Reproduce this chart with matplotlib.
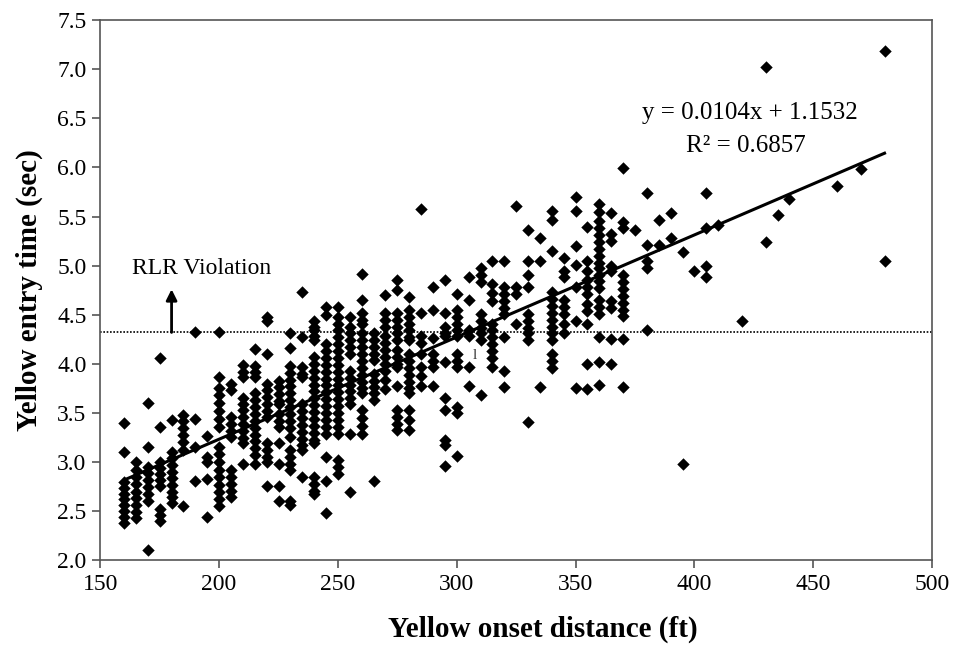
import numpy as np
import matplotlib
matplotlib.use('Agg')
import matplotlib.pyplot as plt

# yellow onset distance columns (ft) and the entry times observed at each (sec)
onset_ft = [160, 165, 170, 175, 180, 185, 190, 195, 200, 205,
            210, 215, 220, 225, 230, 235, 240, 245, 250, 255,
            260, 265, 270, 275, 280, 285, 290, 295, 300, 305,
            310, 315, 320, 325, 330, 335, 340, 345, 350, 355,
            360, 365, 370, 375, 380, 385, 390, 395, 400, 405,
            410, 420, 430, 435, 440, 460, 470, 480]

entry_sec = [
    [3.40, 3.10, 2.80, 2.74, 2.68, 2.62, 2.56, 2.50, 2.44, 2.38],
    [3.00, 2.92, 2.85, 2.78, 2.70, 2.63, 2.56, 2.49, 2.43],
    [3.60, 3.15, 2.95, 2.89, 2.82, 2.75, 2.68, 2.60, 2.10],
    [4.06, 3.36, 3.00, 2.94, 2.88, 2.82, 2.76, 2.52, 2.46, 2.40],
    [3.43, 3.10, 3.04, 2.97, 2.90, 2.84, 2.77, 2.70, 2.64, 2.58],
    [3.48, 3.42, 3.35, 3.28, 3.20, 3.12, 2.55],
    [4.32, 3.44, 3.15, 2.81],
    [3.27, 3.05, 3.00, 2.83, 2.44],
    [4.32, 3.87, 3.75, 3.68, 3.60, 3.52, 3.44, 3.36, 3.15, 3.08, 3.00, 2.92, 2.85, 2.77, 2.70, 2.62, 2.55],
    [3.80, 3.73, 3.46, 3.39, 3.32, 3.26, 2.92, 2.85, 2.78, 2.71, 2.64],
    [3.99, 3.92, 3.87, 3.65, 3.59, 3.53, 3.46, 3.39, 3.32, 3.25, 3.19, 2.98],
    [4.15, 3.98, 3.92, 3.87, 3.70, 3.63, 3.56, 3.49, 3.42, 3.35, 3.28, 3.21, 3.14, 3.07, 2.98],
    [4.48, 4.44, 4.10, 3.80, 3.73, 3.66, 3.59, 3.52, 3.46, 3.19, 3.12, 3.05, 3.00, 2.76],
    [3.83, 3.76, 3.69, 3.62, 3.59, 3.49, 3.42, 3.36, 3.19, 2.98, 2.76, 2.60],
    [4.31, 4.16, 3.98, 3.91, 3.84, 3.77, 3.70, 3.63, 3.56, 3.49, 3.42, 3.35, 3.26, 3.12, 3.05, 2.98, 2.92, 2.60, 2.56],
    [4.73, 4.27, 3.97, 3.90, 3.87, 3.59, 3.52, 3.45, 3.38, 3.31, 3.24, 3.17, 3.12, 2.85],
    [4.44, 4.38, 4.34, 4.28, 4.24, 4.07, 4.00, 3.93, 3.86, 3.79, 3.72, 3.65, 3.58, 3.51, 3.44, 3.37, 3.30, 3.23, 3.19, 2.85, 2.78, 2.71, 2.68],
    [4.58, 4.50, 4.20, 4.13, 4.06, 3.99, 3.92, 3.85, 3.78, 3.71, 3.64, 3.57, 3.50, 3.43, 3.36, 3.29, 3.05, 2.81, 2.48],
    [4.58, 4.48, 4.41, 4.34, 4.27, 4.20, 4.13, 4.06, 3.99, 3.92, 3.85, 3.78, 3.71, 3.64, 3.57, 3.50, 3.43, 3.36, 3.29, 3.02, 2.95, 2.88],
    [4.48, 4.38, 4.31, 4.24, 4.17, 4.10, 3.93, 3.86, 3.79, 3.72, 3.65, 3.59, 3.29, 2.70],
    [4.92, 4.65, 4.52, 4.45, 4.41, 4.31, 4.24, 4.17, 4.10, 4.03, 3.96, 3.89, 3.82, 3.75, 3.70, 3.53, 3.45, 3.37, 3.29],
    [4.31, 4.24, 4.17, 4.10, 4.04, 3.90, 3.83, 3.76, 3.70, 3.63, 2.81],
    [4.70, 4.52, 4.45, 4.38, 4.28, 4.21, 4.14, 4.07, 4.00, 3.93, 3.84, 3.74],
    [4.85, 4.75, 4.52, 4.45, 4.38, 4.31, 4.24, 4.14, 4.07, 4.00, 3.97, 3.77, 3.53, 3.46, 3.39, 3.33],
    [4.68, 4.55, 4.48, 4.41, 4.34, 4.27, 4.24, 4.10, 4.03, 3.96, 3.89, 3.82, 3.75, 3.70, 3.53, 3.43, 3.33],
    [5.58, 4.52, 4.28, 4.21, 4.10, 3.97, 3.88, 3.77],
    [4.78, 4.55, 4.26, 4.10, 4.03, 3.97, 3.77],
    [4.85, 4.52, 4.38, 4.31, 4.28, 4.02, 3.65, 3.53, 3.22, 3.17, 2.96],
    [4.71, 4.55, 4.48, 4.41, 4.34, 4.28, 4.10, 4.03, 3.97, 3.56, 3.50, 3.06],
    [4.88, 4.65, 4.34, 4.28, 3.97, 3.77],
    [4.98, 4.90, 4.83, 4.51, 4.44, 4.37, 4.31, 4.24, 3.68],
    [5.05, 4.81, 4.72, 4.64, 4.41, 4.34, 4.27, 4.20, 4.13, 4.06, 3.97],
    [5.05, 4.78, 4.71, 4.64, 4.57, 4.51, 4.27, 3.93, 3.76],
    [5.61, 4.78, 4.71, 4.41],
    [5.36, 5.05, 4.90, 4.78, 4.51, 4.44, 4.37, 4.31, 4.24, 3.41],
    [5.28, 5.05, 3.76],
    [5.56, 5.46, 5.15, 4.73, 4.66, 4.59, 4.52, 4.45, 4.38, 4.31, 4.24, 4.10, 4.03, 3.96],
    [5.08, 4.95, 4.88, 4.65, 4.58, 4.51, 4.41, 4.31],
    [5.70, 5.56, 5.20, 5.01, 4.78, 4.44, 3.75],
    [5.39, 5.05, 4.95, 4.85, 4.78, 4.71, 4.61, 4.54, 4.41, 4.00, 3.74],
    [5.63, 5.55, 5.45, 5.38, 5.31, 5.24, 5.17, 5.10, 5.03, 4.98, 4.91, 4.84, 4.77, 4.65, 4.58, 4.51, 4.27, 4.02, 3.78],
    [5.54, 5.32, 5.25, 5.00, 4.95, 4.64, 4.57, 4.25, 4.00],
    [5.99, 5.44, 5.38, 4.90, 4.83, 4.76, 4.69, 4.62, 4.55, 4.49, 4.25, 3.76],
    [5.36],
    [5.74, 5.21, 5.05, 4.98, 4.34],
    [5.47, 5.21],
    [5.54, 5.28],
    [5.14, 2.98],
    [4.95],
    [5.74, 5.38, 5.00, 4.88],
    [5.41],
    [4.44],
    [7.02, 5.24],
    [5.52],
    [5.68],
    [5.81],
    [5.98],
    [7.19, 5.05],
]

trend_slope = 0.0104
trend_intercept = 1.1532
trend_range = [160, 480]
violation_level = 4.32

xs = []
ys = []
for d, times in zip(onset_ft, entry_sec):
    for t in times:
        xs.append(d)
        ys.append(t)

plt.rcParams['font.family'] = ['Liberation Serif', 'DejaVu Serif']

fig = plt.figure(figsize=(9.55, 6.5), dpi=100)
ax = fig.add_axes([0.105, 0.138, 0.871, 0.831])

ax.scatter(xs, ys, marker='D', s=40, color='black', linewidths=0, zorder=3)

tx = np.array(trend_range)
ax.plot(tx, trend_slope * tx + trend_intercept, color='black', lw=2.2, zorder=4)

ax.axhline(violation_level, color='black', lw=1.2, ls=(0, (1, 1)), zorder=2)

ax.annotate('', xy=(180, 4.76), xytext=(180, violation_level),
            arrowprops=dict(arrowstyle='-|>', color='black', lw=2,
                            mutation_scale=16, shrinkA=0, shrinkB=0), zorder=5)
ax.text(163.5, 4.97, 'RLR Violation', fontsize=17, ha='left', va='center')

ax.text(423.5, 6.55, 'y = 0.0104x + 1.1532', fontsize=18, ha='center', va='center')
ax.text(421.5, 6.22, 'R\u00b2 = 0.6857', fontsize=18, ha='center', va='center')
ax.text(307.5, 4.09, 'l', fontsize=11, ha='center', va='center', color='#333333')

ax.set_xlim(150, 500)
ax.set_ylim(2.0, 7.5)
ax.set_xticks(np.arange(150, 501, 50))
ax.set_yticks(np.arange(2.0, 7.51, 0.5))
ax.set_yticklabels(['%.1f' % v for v in np.arange(2.0, 7.51, 0.5)])

for sp in ax.spines.values():
    sp.set_color('#555555')
    sp.set_linewidth(1.2)
ax.tick_params(direction='out', length=6, width=1.2, color='#555555',
               labelsize=17, pad=4)

ax.set_xlabel('Yellow onset distance (ft)', fontsize=21, fontweight='bold')
ax.set_ylabel('Yellow entry time (sec)', fontsize=21, fontweight='bold', labelpad=10)
ax.xaxis.set_label_coords(0.532, -0.103)

fig.savefig('out.png', dpi=100)
